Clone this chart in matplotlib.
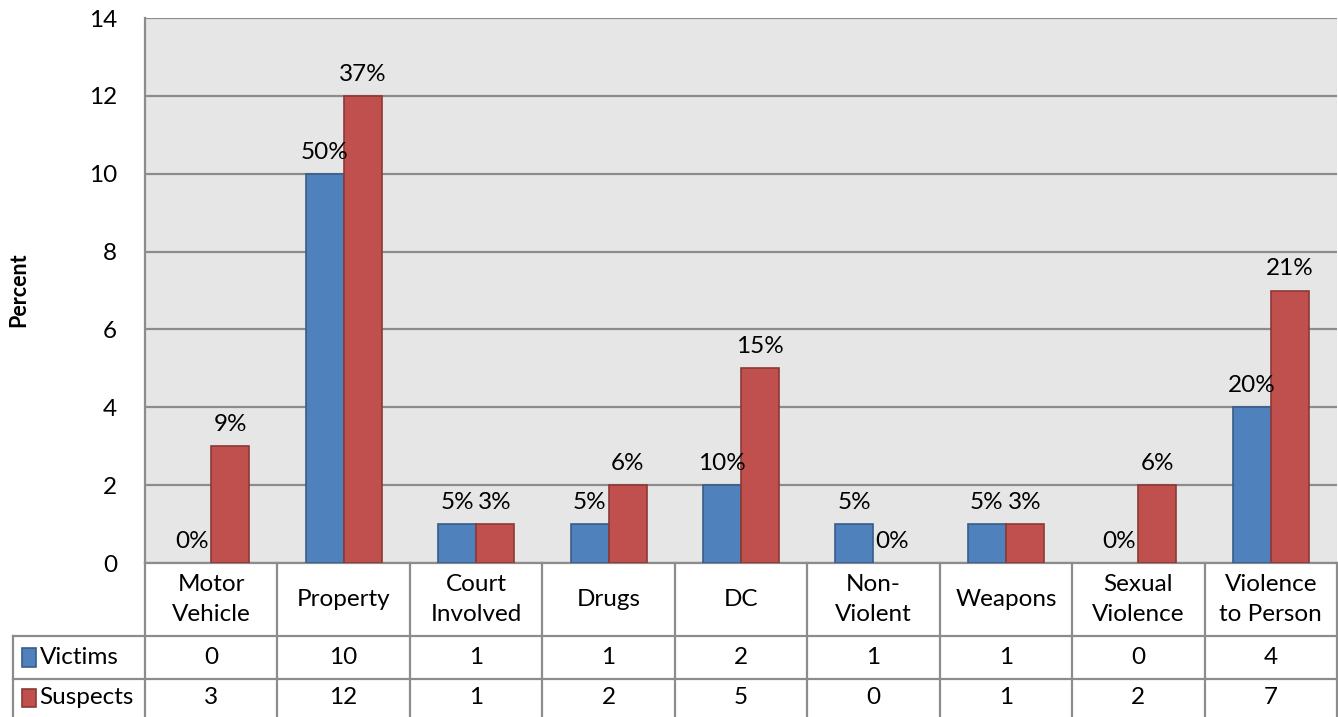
import matplotlib
matplotlib.use("Agg")
import matplotlib.pyplot as plt
import numpy as np

categories = ["Motor\nVehicle", "Property", "Court\nInvolved", "Drugs", "DC",
              "Non-\nViolent", "Weapons", "Sexual\nViolence", "Violence\nto Person"]
victims = [0, 10, 1, 1, 2, 1, 1, 0, 4]
suspects = [3, 12, 1, 2, 5, 0, 1, 2, 7]
victim_pct = ["0%", "50%", "5%", "5%", "10%", "5%", "5%", "0%", "20%"]
suspect_pct = ["9%", "37%", "3%", "6%", "15%", "0%", "3%", "6%", "21%"]
series_names = ["Victims", "Suspects"]
yticks = [0, 2, 4, 6, 8, 10, 12, 14]

plt.rcParams['font.family'] = ['Lato', 'DejaVu Sans']
FS = 17.5
blue, blue_e = "#4F81BD", "#385D8A"
red, red_e = "#C0504D", "#8C3836"
gridc = "#8C8C8C"

fig = plt.figure(figsize=(13.38, 7.17), dpi=100)
W, H = 1338, 717
ax = fig.add_axes([145 / W, 1 - 563 / H, (1337 - 145) / W, (563 - 18) / H])
ax.set_facecolor("#E6E6E6")

x = np.arange(len(categories))
bw = 0.287
lw1 = [1.2 if v else 0 for v in victims]
lw2 = [1.2 if v else 0 for v in suspects]
ax.bar(x - bw / 2, victims, bw, color=blue, edgecolor=blue_e, linewidth=lw1, zorder=3)
ax.bar(x + bw / 2, suspects, bw, color=red, edgecolor=red_e, linewidth=lw2, zorder=3)

for xi, v, lab in zip(x - bw / 2, victims, victim_pct):
    ax.annotate(lab, (xi, v), xytext=(0, 8), textcoords="offset points",
                ha="center", va="bottom", fontsize=FS, color="black", zorder=4)
for xi, v, lab in zip(x + bw / 2, suspects, suspect_pct):
    ax.annotate(lab, (xi, v), xytext=(0, 8), textcoords="offset points",
                ha="center", va="bottom", fontsize=FS, color="black", zorder=4)

ax.set_xlim(-0.5, len(categories) - 0.5)
ax.set_ylim(0, 14)
ax.set_yticks(yticks)
ax.set_yticklabels([str(t) for t in yticks], fontsize=FS)
ax.tick_params(axis="y", length=0, pad=20)
ax.tick_params(axis="x", length=0, labelbottom=False)
ax.yaxis.grid(True, color=gridc, linewidth=1.6, zorder=1)
ax.set_axisbelow(True)
for s in ["top", "right"]:
    ax.spines[s].set_visible(False)
ax.spines["left"].set_color(gridc)
ax.spines["left"].set_linewidth(1.6)
ax.spines["bottom"].set_color(gridc)
ax.spines["bottom"].set_linewidth(1.6)

fig.text(19 / W, 1 - 290 / H, "Percent", rotation=90, fontsize=FS - 2,
         fontweight="bold", ha="center", va="center")

# data table
ph = 563 - 18
r1 = -(636 - 563) / ph
r2 = -(679 - 563) / ph
rb = -(717 - 563) / ph - 0.01
left_x = -0.5 - (145 - 13) / ((1337 - 145) / len(categories))
tr = ax.get_xaxis_transform()
lk = dict(color=gridc, linewidth=1.6, transform=tr, clip_on=False)
for xb in np.arange(-0.5, len(categories), 1.0):
    ax.plot([xb, xb], [0, rb], **lk)
ax.plot([left_x, left_x], [r1, rb], **lk)
ax.plot([left_x, len(categories) - 0.5], [r1, r1], **lk)
ax.plot([left_x, len(categories) - 0.5], [r2, r2], **lk)

for xi, c in zip(x, categories):
    ax.text(xi, r1 / 2, c, transform=tr, ha="center", va="center",
            fontsize=FS, linespacing=1.5)
row_y = [(r1 + r2) / 2, (r2 + rb + 0.01) / 2]
for vals, yc in zip([victims, suspects], row_y):
    for xi, v in zip(x, vals):
        ax.text(xi, yc, str(v), transform=tr, ha="center", va="center", fontsize=FS)

# legend keys in table
for (name, fc, ec), yc in zip([(series_names[0], blue, blue_e), (series_names[1], red, red_e)], row_y):
    kx = left_x + 0.07
    ax.add_patch(plt.Rectangle((kx, yc - 0.017), 0.1, 0.034, transform=tr,
                               facecolor=fc, edgecolor=ec, linewidth=1.2, clip_on=False))
    ax.text(kx + 0.13, yc, name, transform=tr, ha="left", va="center", fontsize=FS)

fig.savefig("out.png", dpi=100)
